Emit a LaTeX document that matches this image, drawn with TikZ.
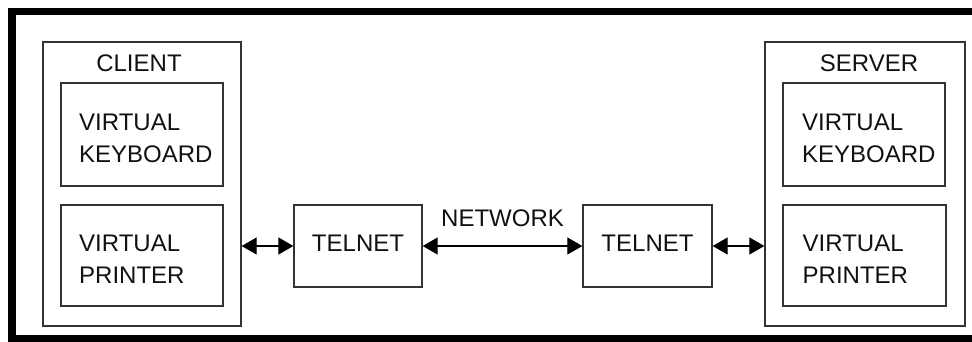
\documentclass[tikz,border=0pt]{standalone}
\usepackage{fontspec}
\setmainfont{Liberation Sans}
\usetikzlibrary{arrows.meta}
\definecolor{boxgray}{HTML}{333333}
\definecolor{textgray}{HTML}{111111}
\begin{document}
\begin{tikzpicture}[x=1pt,y=-1pt,
  box/.style={draw=boxgray, line width=1.3pt, inner sep=0pt},
  lbl/.style={font=\fontsize{24}{32}\selectfont, text=textgray, inner sep=0pt},
  conn/.style={line width=1.1pt, draw=black,
    {Triangle[length=15pt,width=17pt]}-{Triangle[length=15pt,width=17pt]}}]
\useasboundingbox (0,0) rectangle (972,341);
\draw[line width=7.5pt] (12,11.5) rectangle (990,339);
% client side
\node[box, minimum width=198pt, minimum height=284pt] (client) at (142,184) {};
\node[box, minimum width=162pt, minimum height=103pt] (kb1) at (142,134.5) {};
\node[box, minimum width=162pt, minimum height=101pt] (pr1) at (142,255.5) {};
\node[lbl, anchor=base] (clientlbl) at (139,71) {CLIENT};
\node[lbl, anchor=north west, align=left] (kb1t) at (79,113.3) {VIRTUAL\\KEYBOARD};
\node[lbl, anchor=north west, align=left] (pr1t) at (79,235) {VIRTUAL\\PRINTER};
% server side
\node[box, minimum width=200pt, minimum height=284pt] (server) at (865,184) {};
\node[box, minimum width=162pt, minimum height=103pt] (kb2) at (864,134.5) {};
\node[box, minimum width=163pt, minimum height=101pt] (pr2) at (864.5,255.5) {};
\node[lbl, anchor=base] (serverlbl) at (869,71) {SERVER};
\node[lbl, anchor=north west, align=left] (kb2t) at (802,113.3) {VIRTUAL\\KEYBOARD};
\node[lbl, anchor=north west, align=left] (pr2t) at (802.5,235) {VIRTUAL\\PRINTER};
% telnet boxes
\node[box, lbl, draw=boxgray, text depth=5pt, minimum width=128pt, minimum height=82pt] (tel1) at (358,246) {TELNET};
\node[box, lbl, draw=boxgray, text depth=5pt, minimum width=129pt, minimum height=82pt] (tel2) at (647.5,246) {TELNET};
% connectors
\draw[conn] (tel1.west -| client.east) -- (tel1.west);
\draw[conn] (tel1.east) -- node[lbl, anchor=base, yshift=20pt] (netlbl) {NETWORK} (tel2.west);
\draw[conn] (tel2.east) -- (tel2.east -| server.west);
\end{tikzpicture}
\end{document}
